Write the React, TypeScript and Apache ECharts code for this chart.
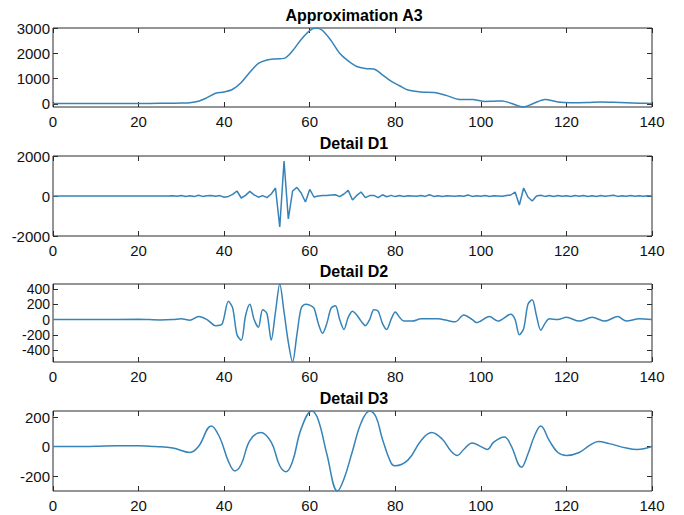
import { useEffect, useRef } from "react";
import * as echarts from "echarts";

const titles = ["Approximation A3", "Detail D1", "Detail D2", "Detail D3"];

const a3X = [0, 5, 10, 15, 20, 25, 28, 30, 32, 34, 36, 38, 40, 42, 44, 46, 48, 50, 52, 54, 56, 58, 60, 61.5, 63, 65, 67, 69, 71, 73, 75, 77, 79, 81, 83, 86, 89, 92, 95, 98, 101, 103, 105, 107, 110, 112, 115, 118, 121, 125, 128, 131, 134, 137, 140];
const a3Y = [20, 20, 20, 20, 20, 25, 30, 35, 50, 110, 250, 420, 470, 580, 850, 1250, 1600, 1740, 1780, 1800, 2100, 2550, 2900, 3000, 2900, 2500, 2000, 1700, 1480, 1400, 1380, 1150, 900, 720, 550, 470, 450, 330, 180, 180, 100, 110, 120, 30, -120, 0, 180, 80, 50, 60, 80, 70, 50, 30, 20];

// Detail D1, one value per integer x from 0 to 140
const d1Y = [
  0, 0, 0, 0, 0, 0, 0, 0, 0, 0, 0, 0, 0, 0, 0, 0, 0, 0, 0, 0, 0, 0, 0, 0, 0, 0, 0, 0,
  10, -10, 20, -20, 10, -30, 40, -20, 10, 30, -10, 20, -60, -20, 80, 250, -100, 30, 230, 60, -60, 20,
  -80, 100, 400, -1550, 1750, -1150, 250, 430, 150, -300, 330, -50, 0, 20, 30, 50, 60, -30, 100, 280,
  -200, 30, 200, -80, 20, 30, -80, 60, -40, 30, -30, 20, -20, 10, 0, -10, 20, -20, 60, -20,
  10, -20, 10, 0, -10, 10, -10, 50, -20, 10, -10, 20, -20, 10, 0, -10, 20, 50, 200, -450,
  400, -50, -250, 0, 40, -20, 30, -20, 20, -10, 10, -20, 20, -10, 30, -20, 10, -20, 20, -10,
  10, 40, -20, 10, -10, 20, -10, 10, -10, 10, 0,
];

const d2X = [0, 10, 20, 25, 28, 30, 32, 34, 36, 38, 39.5, 41, 42, 43, 44, 45, 46, 47, 48, 49, 50, 51, 52, 53, 54, 55, 56, 57, 58, 59, 60, 61, 62, 63, 64, 65, 66, 67, 68, 69, 70, 71, 72, 73, 74, 75, 76, 77, 78, 79, 80, 81, 82, 84, 86, 90, 92, 94, 96, 98, 99, 102, 104, 107, 108, 109, 110, 111, 112, 113, 114, 115, 116, 118, 120, 123, 126, 129, 132, 134, 137, 140];
const d2Y = [0, 0, 5, -5, 0, 10, -10, 40, 0, -80, -60, 240, 150, -200, -270, 50, 200, 0, -100, 130, 80, -270, 100, 467, 100, -300, -557, -200, 150, 200, 190, 150, -50, -180, -50, 150, 180, 0, -130, 30, 110, 60, -20, -80, 0, 130, 110, -50, -130, 0, 100, 30, -20, -20, 10, 10, -10, -30, 60, 0, -40, 40, -20, 70, 0, -200, -120, 200, 260, 50, -140, -50, 10, 0, 30, -20, 30, -20, 40, -20, 10, 0];

const d3X = [0, 5, 10, 15, 20, 24, 28, 32, 34, 37, 39, 41, 42.5, 44, 46, 48.5, 51, 53, 54.5, 56, 58, 60.5, 62, 64, 66.5, 68, 70, 72, 74, 75.5, 77, 79, 80, 83, 86, 88.5, 91, 93, 94.5, 96, 98, 100, 101.5, 103, 105.5, 107, 109.5, 111, 112.5, 114, 116, 118, 120, 123, 125.5, 127.5, 130, 134, 136.5, 140];
const d3Y = [0, 0, 2, 5, 5, 0, -10, -40, 0, 140, 60, -100, -165, -120, 40, 95, 30, -130, -170, -100, 120, 241, 180, -50, -301, -220, -30, 160, 241, 200, 50, -110, -130, -90, 40, 95, 50, -30, -60, -20, 25, 0, -20, 30, 65, 10, -140, -50, 70, 140, 40, -40, -60, -40, 10, 35, 20, -10, -20, 0];

const yMins = [-120, -2000, -557, -301];
const yMaxs = [3000, 2000, 467, 241];
const yTicks = [
  [0, 1000, 2000, 3000],
  [-2000, 0, 2000],
  [-400, -200, 0, 200, 400],
  [-200, 0, 200],
];

const zip = (xs: number[], ys: number[]) => xs.map((x, i) => [x, ys[i]]);
const d1Data = d1Y.map((y, i) => [i, y]);
const seriesData = [zip(a3X, a3Y), d1Data, zip(d2X, d2Y), zip(d3X, d3Y)];
const smooths = [0.3, 0, 0.3, 0.4];

const gridTops = [28, 156, 284, 411];
const gridHeights = [79, 80, 78, 80];
const yLabelSizes = [15, 15, 14, 15];
const LEFT = 53;
const WIDTH = 599;
const FONT = '"Liberation Sans", Arial, sans-serif';
const FRAME = "#2b2b2b";
const LINE = "#3583b8";

function buildOption() {
  const grid: any[] = [];
  const xAxis: any[] = [];
  const yAxis: any[] = [];
  const series: any[] = [];
  const graphic: any[] = [];
  for (let i = 0; i < 4; i++) {
    grid.push({
      left: LEFT,
      top: gridTops[i],
      width: WIDTH,
      height: gridHeights[i],
      show: true,
      borderColor: FRAME,
      borderWidth: 1,
      backgroundColor: "transparent",
    });
    for (const pos of ["bottom", "top"]) {
      xAxis.push({
        gridIndex: i,
        type: "value",
        position: pos,
        min: 0,
        max: 140,
        interval: 20,
        axisLine: { show: false, onZero: false },
        axisTick: { show: true, inside: true, length: 5, lineStyle: { color: FRAME } },
        axisLabel: {
          show: pos === "bottom",
          margin: 7,
          fontSize: 15,
          fontFamily: FONT,
          color: "#111",
          formatter: (v: number) => String(v),
        },
        splitLine: { show: false },
      });
    }
    for (const pos of ["left", "right"]) {
      yAxis.push({
        gridIndex: i,
        type: "value",
        position: pos,
        min: yMins[i],
        max: yMaxs[i],
        axisLine: { show: false, onZero: false },
        axisTick: {
          show: true,
          inside: true,
          length: 5,
          lineStyle: { color: FRAME },
          customValues: yTicks[i],
        },
        axisLabel: {
          show: pos === "left",
          margin: 3,
          fontSize: yLabelSizes[i],
          lineHeight: 13,
          fontFamily: FONT,
          color: "#111",
          customValues: yTicks[i],
          formatter: (v: number) => String(v),
        },
        splitLine: { show: false },
      });
    }
    series.push({
      type: "line",
      xAxisIndex: i * 2,
      yAxisIndex: i * 2,
      data: seriesData[i],
      showSymbol: false,
      smooth: smooths[i],
      lineStyle: { color: LINE, width: 1.5 },
      clip: true,
    });
    graphic.push({
      type: "text",
      x: 354,
      y: gridTops[i] - 13,
      style: {
        text: titles[i],
        textAlign: "center",
        textVerticalAlign: "middle",
        font: `bold 16px ${FONT}`,
        fill: "#000",
      },
    });
  }
  return { animation: false, grid, xAxis, yAxis, series, graphic };
}

export default function App() {
  const ref = useRef<HTMLDivElement>(null);
  useEffect(() => {
    document.body.style.margin = "0";
    const chart = echarts.init(ref.current!, null, { renderer: "svg" });
    chart.setOption(buildOption() as any);
    return () => chart.dispose();
  }, []);
  return <div ref={ref} style={{ width: 684, height: 515, background: "#fff" }} />;
}
